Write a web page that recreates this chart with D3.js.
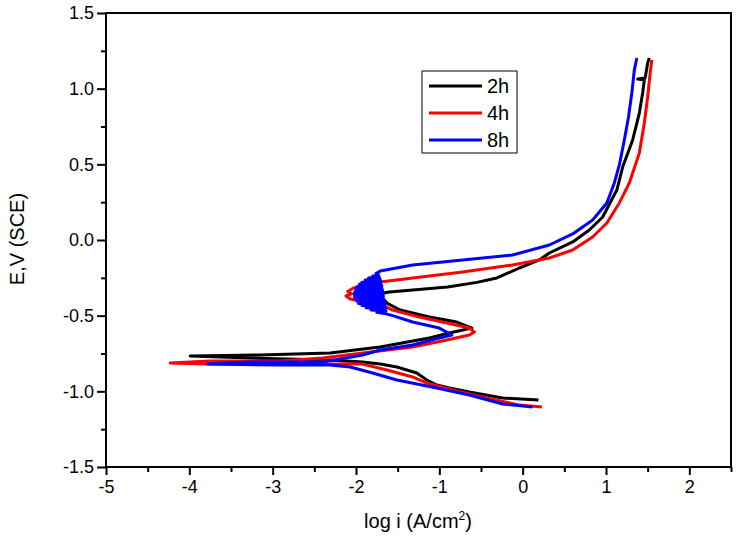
<!DOCTYPE html>
<html>
<head>
<meta charset="utf-8">
<script src="https://cdn.jsdelivr.net/npm/d3@7"></script>
<style>
  body { margin: 0; background: #fff; }
  svg text { font-family: "Liberation Sans", Arial, sans-serif; fill: #000; }
</style>
</head>
<body>
<svg id="chart" width="739" height="547"></svg>
<script>
// tick values
const xMajor = [-5, -4, -3, -2, -1, 0, 1, 2];
const xMinor = [-4.5, -3.5, -2.5, -1.5, -0.5, 0.5, 1.5, 2.5];
const yMajor = [-1.5, -1.0, -0.5, 0.0, 0.5, 1.0, 1.5];
const yMinor = [-1.25, -0.75, -0.25, 0.25, 0.75, 1.25];

const seriesNames = ["2h", "4h", "8h"];
const seriesColors = ["#000000", "#ff0000", "#0000ff"];

// [log i, E], cathodic end -> Ecorr tip -> anodic end
const data2h = [
  [0.19, -1.057], [-0.24, -1.044], [-0.64, -1.005], [-0.88, -0.978], [-1.03, -0.958],
  [-1.15, -0.925], [-1.27, -0.879], [-1.51, -0.839], [-1.71, -0.82], [-1.92, -0.806],
  [-2.31, -0.793], [-3.27, -0.780], [-3.99, -0.767], [-3.15, -0.760], [-2.31, -0.747],
  [-1.71, -0.707], [-1.12, -0.648], [-0.88, -0.615], [-0.61, -0.582], [-0.79, -0.542],
  [-1.12, -0.509], [-1.47, -0.463], [-1.63, -0.416], [-1.69, -0.377], [-1.67, -0.350],
  [-1.60, -0.344], [-1.32, -0.330], [-0.90, -0.310], [-0.55, -0.280], [-0.31, -0.251],
  [-0.04, -0.185], [0.20, -0.132], [0.32, -0.086], [0.60, -0.013], [0.80, 0.066],
  [0.96, 0.152], [1.13, 0.330], [1.20, 0.482], [1.32, 0.661], [1.40, 0.839],
  [1.44, 0.972], [1.46, 1.057], [1.38, 1.064], [1.47, 1.071], [1.50, 1.170],
  [1.52, 1.203]
];
const data4h = [
  [0.23, -1.104], [-0.04, -1.091], [-0.43, -1.044], [-0.84, -0.991], [-1.15, -0.945],
  [-1.32, -0.905], [-1.63, -0.859], [-1.92, -0.820], [-2.31, -0.820], [-2.91, -0.820],
  [-3.79, -0.820], [-4.23, -0.813], [-3.75, -0.800], [-2.91, -0.800], [-2.40, -0.780],
  [-1.92, -0.747], [-1.32, -0.707], [-0.91, -0.661], [-0.64, -0.628], [-0.58, -0.608],
  [-0.64, -0.582], [-0.91, -0.549], [-1.24, -0.509], [-1.56, -0.463], [-1.68, -0.430],
  [-1.89, -0.410], [-2.07, -0.390], [-2.12, -0.370], [-2.05, -0.355], [-2.10, -0.340],
  [-2.04, -0.320], [-1.93, -0.297], [-1.71, -0.278],
  [-1.32, -0.251], [-0.72, -0.211], [-0.12, -0.165], [0.32, -0.119], [0.60, -0.066],
  [0.84, 0.020], [1.01, 0.112], [1.16, 0.245], [1.28, 0.377], [1.40, 0.575],
  [1.46, 0.773], [1.50, 0.945], [1.53, 1.104], [1.55, 1.190]
];
const data8h = [
  [0.12, -1.104], [-0.24, -1.084], [-0.64, -1.024], [-1.03, -0.978], [-1.51, -0.925],
  [-1.80, -0.879], [-2.07, -0.839], [-2.31, -0.826], [-2.91, -0.826], [-3.79, -0.820],
  [-3.27, -0.806], [-2.40, -0.806], [-1.92, -0.760], [-1.71, -0.727], [-1.32, -0.694],
  [-1.00, -0.648], [-0.85, -0.628], [-1.00, -0.582], [-1.32, -0.542], [-1.56, -0.500],
  // noisy band at the passivation nose
  [-1.66, -0.485], [-1.75, -0.478], [-1.64, -0.470], [-1.82, -0.462], [-1.64, -0.455],
  [-1.88, -0.448], [-1.65, -0.440], [-1.93, -0.433], [-1.65, -0.426], [-1.97, -0.419],
  [-1.66, -0.412], [-1.99, -0.405], [-1.66, -0.398], [-2.01, -0.391], [-1.67, -0.384],
  [-2.02, -0.377], [-1.67, -0.370], [-2.02, -0.363], [-1.67, -0.356], [-2.02, -0.349],
  [-1.68, -0.342], [-2.01, -0.335], [-1.68, -0.328], [-2.00, -0.321], [-1.69, -0.314],
  [-1.98, -0.307], [-1.69, -0.300], [-1.96, -0.293], [-1.70, -0.286], [-1.93, -0.279],
  [-1.70, -0.272], [-1.89, -0.265], [-1.71, -0.258], [-1.85, -0.251], [-1.72, -0.244],
  [-1.80, -0.237], [-1.73, -0.230], [-1.76, -0.222],
  [-1.71, -0.205], [-1.32, -0.165],
  [-0.72, -0.132], [-0.12, -0.099], [0.32, -0.033], [0.60, 0.040], [0.84, 0.132],
  [1.01, 0.245], [1.10, 0.377], [1.16, 0.496], [1.22, 0.661], [1.27, 0.813],
  [1.31, 0.972], [1.34, 1.124], [1.37, 1.203]
];
const allSeries = [data2h, data4h, data8h];

const svg = d3.select("#chart");
const plot = { left: 106, right: 731, top: 13, bottom: 467 };

const x = d3.scaleLinear().domain([-5, 2.5]).range([plot.left, plot.right]);
const y = d3.scaleLinear().domain([-1.5, 1.5]).range([plot.bottom, plot.top]);

const hyphen = f => d => f(d).replace("\u2212", "-");

// curves
const line = d3.line().x(d => x(d[0])).y(d => y(d[1]));
allSeries.forEach((s, i) => {
  svg.append("path")
    .datum(s)
    .attr("fill", "none")
    .attr("stroke", seriesColors[i])
    .attr("stroke-width", 3)
    .attr("stroke-linejoin", "round")
    .attr("d", line);
});

// frame
svg.append("rect")
  .attr("x", plot.left).attr("y", plot.top)
  .attr("width", plot.right - plot.left).attr("height", plot.bottom - plot.top)
  .attr("fill", "none").attr("stroke", "#000").attr("stroke-width", 2);

// axes
svg.append("g").attr("transform", `translate(0,${plot.bottom})`)
  .call(d3.axisBottom(x).tickValues(xMajor).tickSize(8).tickPadding(5).tickFormat(hyphen(d3.format("d"))));
svg.append("g").attr("transform", `translate(0,${plot.bottom})`)
  .call(d3.axisBottom(x).tickValues(xMinor).tickSize(5).tickFormat(""));
svg.append("g").attr("transform", `translate(${plot.left},0)`)
  .call(d3.axisLeft(y).tickValues(yMajor).tickSize(9).tickPadding(3).tickFormat(hyphen(d3.format(".1f"))));
svg.append("g").attr("transform", `translate(${plot.left},0)`)
  .call(d3.axisLeft(y).tickValues(yMinor).tickSize(5).tickFormat(""));

svg.selectAll(".domain").remove();
svg.selectAll(".tick line").attr("stroke", "#000").attr("stroke-width", 2);
svg.selectAll(".tick text").attr("font-size", 18).attr("font-family", "'Liberation Sans', Arial, sans-serif");

// axis titles
const xTitle = svg.append("text")
  .attr("x", 418).attr("y", 528)
  .attr("text-anchor", "middle")
  .attr("font-size", 20);
xTitle.append("tspan").text("log i (A/cm");
xTitle.append("tspan").attr("dy", -8).attr("font-size", 12).text("2");
xTitle.append("tspan").attr("dy", 8).text(")");

svg.append("text")
  .attr("transform", "translate(24,239) rotate(-90)")
  .attr("text-anchor", "middle")
  .attr("font-size", 20)
  .text("E,V (SCE)");

// legend
const legend = svg.append("g");
legend.append("rect")
  .attr("x", 422).attr("y", 71).attr("width", 95).attr("height", 82)
  .attr("fill", "#fff").attr("stroke", "#000").attr("stroke-width", 1);
seriesNames.forEach((name, i) => {
  const ly = 86 + i * 27;
  legend.append("line")
    .attr("x1", 429).attr("x2", 482).attr("y1", ly).attr("y2", ly)
    .attr("stroke", seriesColors[i]).attr("stroke-width", 3);
  legend.append("text")
    .attr("x", 487).attr("y", ly + 7)
    .attr("font-size", 20)
    .text(name);
});
</script>
</body>
</html>
